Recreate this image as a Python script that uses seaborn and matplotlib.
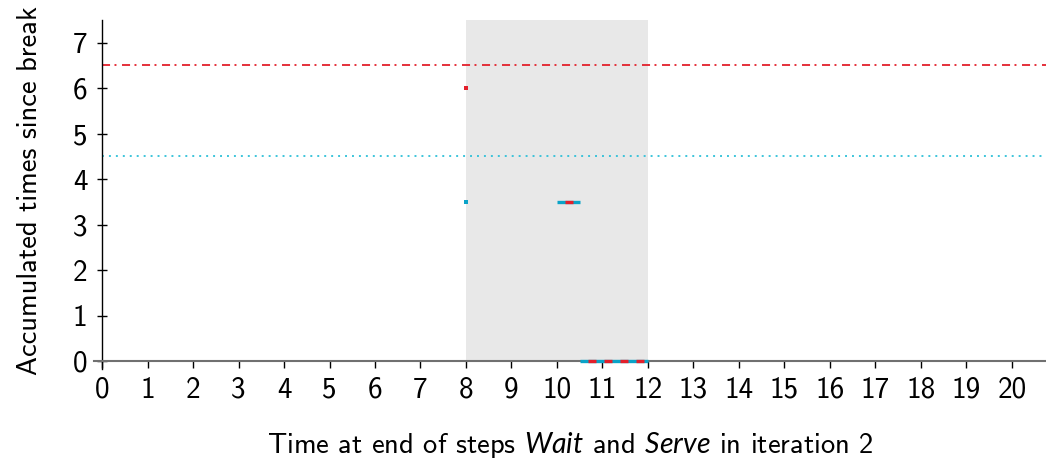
import matplotlib
matplotlib.use("Agg")
import matplotlib.pyplot as plt
import seaborn as sns
import pandas as pd

# Break window and thresholds
window_start, window_end = 8, 12
wait_limit = 6.5
serve_limit = 4.5

# Accumulated times (piecewise segments) for the two steps
wait_seg_x = [[8.0, 8.0], [10.0, 10.5], [10.5, 12.0]]
wait_seg_y = [[6.0, 6.0], [3.5, 3.5], [0.0, 0.0]]
serve_seg_x = [[8.0, 8.0], [10.0, 10.5], [10.5, 12.0]]
serve_seg_y = [[3.5, 3.5], [3.5, 3.5], [0.0, 0.0]]

x_ticks = list(range(0, 21))
y_ticks = list(range(0, 8))

RED = "#e3202b"
CYAN = "#0aa3c8"
CYAN_LIGHT = "#2ec0d8"

sns.set_theme(style="ticks")
plt.rcParams["font.family"] = ["cmss10", "DejaVu Sans"]
plt.rcParams["mathtext.fontset"] = "custom"
plt.rcParams["mathtext.rm"] = "cmss10"
plt.rcParams["mathtext.it"] = "Lato:italic"
plt.rcParams["axes.unicode_minus"] = False
plt.rcParams["lines.scale_dashes"] = False

FS = 21
LABEL_FS = 20.5

fig = plt.figure(figsize=(10.46, 4.61), dpi=100)
ax = fig.add_axes([0.0899, 0.2169, 0.9101, 0.7397])

ax.axvspan(window_start, window_end, color="#e8e8e8", lw=0, zorder=0)
ax.axhline(wait_limit, xmin=0.0085, color=RED, lw=1.3,
           linestyle=(0, (5.8, 3.2, 1.4, 4.0)), zorder=1)
ax.axhline(serve_limit, xmin=0.0085, color=CYAN_LIGHT, lw=1.3,
           linestyle=(0, (1.4, 3.6)), zorder=1)

def to_frame(xs, ys):
    rows = []
    for i, (sx, sy) in enumerate(zip(xs, ys)):
        for x, y in zip(sx, sy):
            rows.append({"seg": i, "x": x, "y": y})
    return pd.DataFrame(rows)

serve_df = to_frame(serve_seg_x, serve_seg_y)
wait_df = to_frame(wait_seg_x, wait_seg_y)

for seg, d in serve_df.groupby("seg"):
    if d["x"].iloc[0] == d["x"].iloc[1]:
        ax.plot(d["x"].iloc[:1], d["y"].iloc[:1], marker="s", ms=2.4, color=CYAN,
                mew=0, zorder=5, clip_on=False)
    else:
        sns.lineplot(data=d, x="x", y="y", ax=ax, color=CYAN, lw=2.4,
                     solid_capstyle="butt", zorder=5, legend=False, clip_on=False)

for seg, d in wait_df.groupby("seg"):
    if d["x"].iloc[0] == d["x"].iloc[1]:
        ax.plot(d["x"].iloc[:1], d["y"].iloc[:1], marker="s", ms=2.4, color=RED,
                mew=0, zorder=6, clip_on=False)
    else:
        sns.lineplot(data=d, x="x", y="y", ax=ax, color=RED, lw=2.4,
                     linestyle=(5.76, (5.76, 5.76)), dash_capstyle="butt",
                     zorder=6, legend=False, clip_on=False)

ax.set_xlim(-0.176, 20.75)
ax.set_ylim(0, 7.5)
ax.set_xticks(x_ticks)
ax.set_yticks(y_ticks)
ax.tick_params(axis="both", width=1.0, color="black", labelsize=FS, labelcolor="black")
ax.tick_params(axis="x", direction="out", length=5.2, pad=6)
ax.tick_params(axis="y", direction="inout", length=7.2, pad=7)

for side in ("top", "right"):
    ax.spines[side].set_visible(False)
ax.spines["left"].set_position(("data", 0))
ax.spines["left"].set_color("black")
ax.spines["left"].set_linewidth(1.0)
ax.spines["left"].set_bounds(-0.17, 7.5)
ax.spines["bottom"].set_color("#707070")
ax.spines["bottom"].set_linewidth(1.5)

ax.set_xlabel(r"Time at end of steps $\mathit{Wait}$ and $\mathit{Serve}$ in iteration 2",
              fontsize=LABEL_FS, labelpad=19, color="black")
ax.set_ylabel("Accumulated times since break", fontsize=LABEL_FS, labelpad=22, color="black")
ax.grid(False)

fig.savefig("out.png", dpi=100)
